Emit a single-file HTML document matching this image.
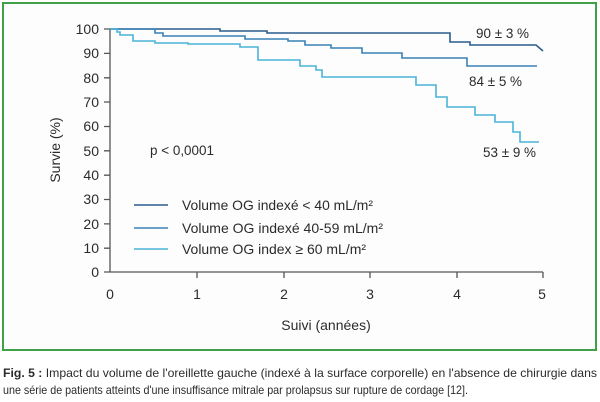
<!DOCTYPE html>
<html><head><meta charset="utf-8"><style>
body{margin:0;background:#fff;width:600px;height:402px;overflow:hidden}
svg text{font-family:"Liberation Sans",sans-serif;fill:#2b2b2b}
</style></head><body>
<svg width="600" height="402" style="position:absolute;left:0;top:0">
<rect x="3" y="3" width="593" height="347" fill="#fdfdfd" stroke="#3fa048" stroke-width="2"/>
<g stroke="#555" stroke-width="1.3" fill="none">
<line x1="110" y1="29" x2="110" y2="272"/>
<line x1="110" y1="272" x2="543" y2="272"/>
<path d="M104 29H110M104 53.4H110M104 77.8H110M104 102H110M104 126.5H110M104 150.8H110M104 175.2H110M104 199.5H110M104 223.9H110M104 248.2H110M104 272H110"/>
<path d="M197 272V278M284 272V278M370 272V278M457 272V278M543 272V278"/>
</g>
<g font-size="14" text-anchor="end">
<text x="99" y="34">100</text><text x="99" y="58">90</text><text x="99" y="83">80</text><text x="99" y="107">70</text><text x="99" y="131">60</text><text x="99" y="156">50</text><text x="99" y="180">40</text><text x="99" y="204">30</text><text x="99" y="229">20</text><text x="99" y="253">10</text><text x="99" y="277">0</text>
</g>
<g font-size="14" text-anchor="middle">
<text x="110" y="299">0</text><text x="197" y="299">1</text><text x="284" y="299">2</text><text x="370" y="299">3</text><text x="457" y="299">4</text><text x="542" y="299">5</text>
<text x="326" y="330">Suivi (années)</text>
<text transform="translate(60,150) rotate(-90)">Survie (%)</text>
</g>
<g fill="none" stroke-width="1.6">
<path stroke="#2b5c8e" d="M110 29H220V31H267V33H450V42H470V45H536L543 51"/>
<path stroke="#3a80b6" d="M110 29H155V33H163V36H245V39H288V41H305V45H331V48H362V53H402V58H467V66H537"/>
<path stroke="#4ab4d9" d="M110 29H117V32H120V35H133V41H155V43H188V44H240V47H258V60H300V66H316V70H322V77H416V85H436V97H447V107H475V115H495V122H513V132H520V142H539"/>
<line stroke="#2b5c8e" x1="134" y1="205" x2="168" y2="205"/>
<line stroke="#3a80b6" x1="134" y1="228" x2="168" y2="228"/>
<line stroke="#4ab4d9" x1="134" y1="249" x2="168" y2="249"/>
</g>
<g font-size="14">
<text x="476" y="38" textLength="53" lengthAdjust="spacingAndGlyphs">90 ± 3 %</text>
<text x="469" y="86" textLength="53" lengthAdjust="spacingAndGlyphs">84 ± 5 %</text>
<text x="483" y="157" textLength="53" lengthAdjust="spacingAndGlyphs">53 ± 9 %</text>
<text x="150" y="155" textLength="64" lengthAdjust="spacingAndGlyphs">p &lt; 0,0001</text>
<text x="182" y="210" textLength="191" lengthAdjust="spacingAndGlyphs">Volume OG indexé &lt; 40 mL/m²</text>
<text x="182" y="233" textLength="201" lengthAdjust="spacingAndGlyphs">Volume OG indexé 40-59 mL/m²</text>
<text x="182" y="254" textLength="184" lengthAdjust="spacingAndGlyphs">Volume OG index ≥ 60 mL/m²</text>
</g>
<g font-size="12" fill="#333">
<text x="3" y="377" textLength="594" lengthAdjust="spacingAndGlyphs"><tspan font-weight="bold">Fig. 5 :</tspan> Impact du volume de l'oreillette gauche (indexé à la surface corporelle) en l'absence de chirurgie dans</text>
<text x="3" y="394" textLength="465" lengthAdjust="spacingAndGlyphs">une série de patients atteints d'une insuffisance mitrale par prolapsus sur rupture de cordage [12].</text>
</g>
</svg>
</body></html>
